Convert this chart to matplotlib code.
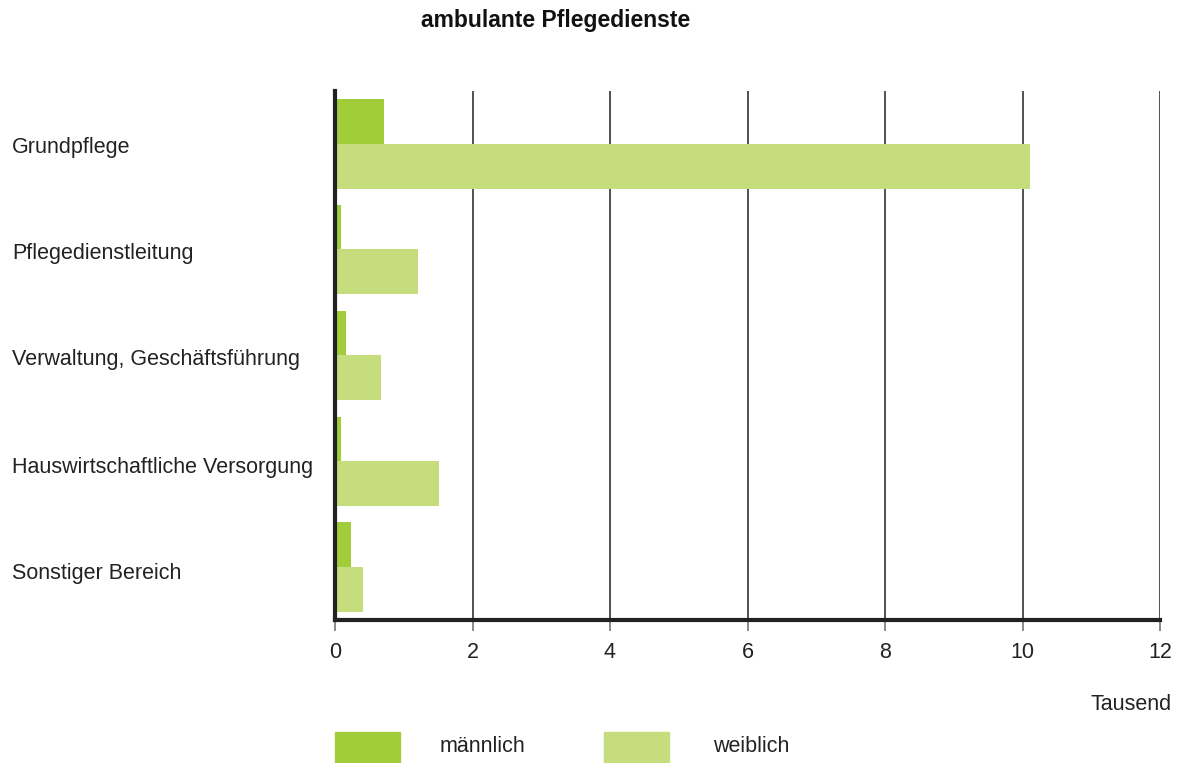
import matplotlib
matplotlib.use('Agg')
import matplotlib.pyplot as plt
from matplotlib.patches import Rectangle
import numpy as np

plt.rcParams['font.family'] = ['Liberation Sans', 'DejaVu Sans']

# data (Tausend)
categories = ['Grundpflege', 'Pflegedienstleitung', 'Verwaltung, Geschäftsführung',
              'Hauswirtschaftliche Versorgung', 'Sonstiger Bereich']
maennlich = [0.71, 0.09, 0.16, 0.09, 0.23]
weiblich = [10.11, 1.21, 0.67, 1.51, 0.41]
x_ticks = [0, 2, 4, 6, 8, 10, 12]

col_m = '#a2cd3a'
col_w = '#c5dd7c'
txt = '#222222'

W, H = 1189, 763
fig = plt.figure(figsize=(W / 100, H / 100), dpi=100)
ax = fig.add_axes([335 / W, 1 - 620 / H, 825 / W, 529 / H])

y = np.arange(len(categories))
h = 0.425
ax.barh(y - 0.21, maennlich, height=h, color=col_m, zorder=3)
ax.barh(y + 0.21, weiblich, height=h, color=col_w, zorder=3)

ax.set_xlim(0, 12)
ax.set_ylim(len(categories) - 0.5, -0.5)
ax.set_xticks(x_ticks)
ax.set_xticklabels([str(t) for t in x_ticks], fontsize=15.5, color=txt)
ax.set_yticks([])
ax.grid(axis='x', color='#333333', linewidth=1.2, zorder=1)
ax.tick_params(axis='x', length=8, width=1.2, color='#777777', pad=8)

for s in ['top', 'right']:
    ax.spines[s].set_visible(False)
for s in ['left', 'bottom']:
    ax.spines[s].set_linewidth(3)
    ax.spines[s].set_color(txt)
    ax.spines[s].set_zorder(4)

# category labels, left aligned
label_y = [147, 253, 360, 467, 574]
for c, py in zip(categories, label_y):
    fig.text(12 / W, 1 - py / H, c, fontsize=15.5, color=txt,
             ha='left', va='center')

fig.text(556 / W, 1 - 20 / H, 'ambulante Pflegedienste', fontsize=16.5,
         fontweight='bold', ha='center', va='center', color='#111111')
fig.text(1172 / W, 1 - 705 / H, 'Tausend', fontsize=15.5, ha='right',
         va='center', color=txt)

# legend
for x0, col, lab, tx in [(335, col_m, 'männlich', 440), (604, col_w, 'weiblich', 713)]:
    fig.patches.append(Rectangle((x0 / W, 0), 65 / W, 31 / H,
                                 transform=fig.transFigure, color=col))
    fig.text(tx / W, 1 - 746 / H, lab, fontsize=15.5, ha='left', va='center',
             color=txt)

fig.savefig('out.png', dpi=100)
